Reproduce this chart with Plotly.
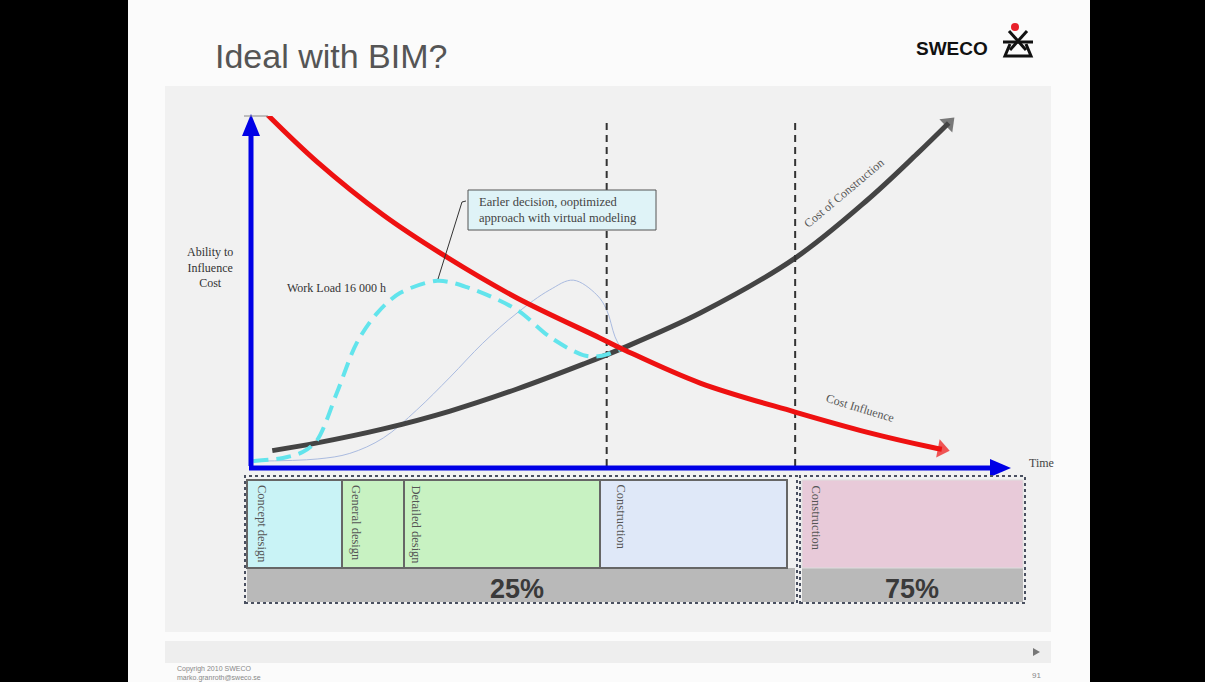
import plotly.graph_objects as go

W, H = 1205, 682

# ---- chart data: time on x (0-100), relative level on y (0-100) ----
influence_x = [2.2, 8.7, 17.4, 25.3, 35.0, 45.9, 49.2, 59.1, 71.6, 81.0, 89.7, 90.9]
influence_y = [100.3, 86.9, 71.7, 60.3, 48.0, 36.6, 33.1, 23.7, 15.4, 9.7, 5.3, 4.8]

construction_x = [2.8, 8.7, 17.4, 26.2, 35.0, 43.7, 48.6, 59.1, 71.6, 81.1, 87.6, 91.8]
construction_y = [4.4, 6.6, 10.6, 15.7, 22.0, 29.1, 33.4, 43.7, 59.4, 76.0, 89.1, 98.0]

bim_load_x = [0.3, 4.2, 6.8, 8.7, 11.3, 13.9, 16.6, 19.6, 24.5, 28.4, 35.0, 39.3, 43.7, 45.9, 49.0]
bim_load_y = [1.4, 2.3, 4.0, 7.4, 20.9, 35.1, 43.7, 49.4, 52.9, 51.1, 44.6, 36.9, 31.7, 31.4, 33.7]

trad_load_x = [0.3, 8.7, 13.0, 17.4, 21.8, 26.2, 30.5, 35.0, 39.3, 42.4, 45.5, 46.8, 47.9, 48.8]
trad_load_y = [1.4, 2.0, 3.6, 8.0, 16.0, 25.4, 35.1, 43.7, 50.3, 53.1, 48.9, 44.6, 36.9, 33.1]

milestones = [46.8, 71.6]

phase_names = ["Concept design", "General design", "Detailed design", "Construction", "Construction"]
shares = [25, 75]

# ---- layout helpers (pixel -> paper) ----
def px(x):
    return x / W


def py(y):
    return 1 - y / H


shapes = []
annotations = []


def rect(x0, y0, x1, y1, fill, line=None, lw=0, dash=None, layer="below"):
    shapes.append(dict(type="rect", xref="paper", yref="paper",
                       x0=px(x0), x1=px(x1), y0=py(y1), y1=py(y0),
                       fillcolor=fill, layer=layer,
                       line=dict(color=line or fill, width=lw, dash=dash)))


def seg(x0, y0, x1, y1, color, w, layer="above"):
    shapes.append(dict(type="line", xref="paper", yref="paper",
                       x0=px(x0), x1=px(x1), y0=py(y0), y1=py(y1), layer=layer,
                       line=dict(color=color, width=w)))


def path(pts, fill, line=None, lw=0, layer="above", close=True):
    d = "M " + " L ".join(f"{px(a):.5f},{py(b):.5f}" for a, b in pts) + (" Z" if close else "")
    shapes.append(dict(type="path", xref="paper", yref="paper", path=d, layer=layer,
                       fillcolor=fill, line=dict(color=line or fill, width=lw)))


def text(x, y, s, size, color="#333", family="Liberation Serif", xa="center", ya="middle",
         angle=0, bold=False, align="center"):
    annotations.append(dict(xref="paper", yref="paper", x=px(x), y=py(y), text=s,
                            showarrow=False, xanchor=xa, yanchor=ya, textangle=angle,
                            align=align,
                            font=dict(family=family, size=size, color=color,
                                      weight="bold" if bold else "normal")))


# slide + panel backgrounds
rect(128, 0, 1090, H, "#fbfbfb")
rect(165, 86, 1051, 632, "#f1f1f1")
rect(165, 641, 1051, 663, "#eeeeee")

# title and logo
text(213, 56, "Ideal with BIM?", 34, "#555", "Liberation Sans", xa="left")
text(952, 48, "SWECO", 19, "#111", "Liberation Sans", bold=True)
seg(1009, 31, 1026, 50, "#111", 3)
seg(1027, 31, 1010, 50, "#111", 3)
seg(1003, 42, 1033, 42, "#111", 3)
path([(1010, 44), (1005, 56), (1031, 56), (1026, 44)], "rgba(0,0,0,0)", "#111", 3, close=False)
shapes.append(dict(type="circle", xref="paper", yref="paper", x0=px(1011), x1=px(1019),
                   y0=py(31), y1=py(23), fillcolor="#e8202a", line=dict(width=0)))

# footer
text(175, 669, "Copyrigh 2010 SWECO", 7, "#888", "Liberation Sans", xa="left")
text(175, 678, "marko.granroth@sweco.se", 7, "#888", "Liberation Sans", xa="left")
text(1036, 675, "91", 8, "#888", "Liberation Sans")
path([(1033, 648), (1033, 656), (1040, 652)], "#777")

# blue axes with arrow heads
seg(251, 466, 251, 134, "#0000e6", 5)
path([(242, 136), (251, 114), (260, 136)], "#0000e6")
seg(244, 116, 268, 116, "#888", 1)
seg(249, 468, 992, 468, "#0000e6", 5)
path([(990, 459), (1011, 468), (990, 477)], "#0000e6")
text(1027, 463, "Time", 12, "#444", xa="left")

# axis labels and curve captions
text(210, 267, "Ability to<br>Influence<br>Cost", 12, "#333")
text(285, 288, "Work Load 16 000 h", 12, "#333", xa="left")
text(844, 193, "Cost of Construction", 12, "#555", angle=-40)
text(860, 408, "Cost Influence", 12, "#555", angle=17)

# call-out box
rect(468, 190, 656, 230, "#dff3f7", "#555", 1, layer="above")
text(477, 210, "Earler decision, ooptimized<br>approach with virtual modeling", 12.5, "#444",
     xa="left", align="left")
path([(438, 279), (462, 202), (466, 201)], "rgba(0,0,0,0)", "#333", 1, close=False)

# phase boxes beneath the time axis
phase_edges = [247, 342, 404, 600, 787]
phase_fills = ["#c9f3f6", "#c8f2c2", "#c8f2c2", "#dfe8f8"]
rect(247, 568, 795, 602, "#b9b9b9")
rect(802, 568, 1023, 602, "#b9b9b9")
for i in range(4):
    rect(phase_edges[i], 480, phase_edges[i + 1], 568, phase_fills[i], "#666", 2)
rect(802, 480, 1023, 568, "#e8cad9", "#ddd", 1)
rect(245, 476, 797, 603, "rgba(0,0,0,0)", "#4a5060", 2, "dot", layer="above")
rect(800, 476, 1025, 603, "rgba(0,0,0,0)", "#4a5060", 2, "dot", layer="above")

label_x = [262, 356, 416, 621, 816]
for name, lx in zip(phase_names, label_x):
    text(lx, 483, name, 12.5, "#555", angle=90, ya="top")
for share, cx in zip(shares, [517, 912]):
    text(cx, 589, f"{share}%", 27, "#3a3a3a", "Liberation Sans", bold=True)

# ---- traces ----
fig = go.Figure()


def head_sizes(n, s):
    return [0] * (n - 1) + [s]


fig.add_trace(go.Scatter(x=trad_load_x, y=trad_load_y, mode="lines",
                         line=dict(color="#aabbe0", width=1, shape="spline", smoothing=1.0)))
fig.add_trace(go.Scatter(x=construction_x, y=construction_y, mode="lines+markers",
                         line=dict(color="#444444", width=5, shape="spline", smoothing=1.0),
                         marker=dict(symbol="triangle-up", angleref="previous", color="#444444",
                                     line=dict(width=0),
                                     size=head_sizes(len(construction_x), 16))))
for m in milestones:
    fig.add_trace(go.Scatter(x=[m, m], y=[0, 99.4], mode="lines",
                             line=dict(color="#333", width=2, dash="7px,5px")))
fig.add_trace(go.Scatter(x=bim_load_x, y=bim_load_y, mode="lines",
                         line=dict(color="#62e4ec", width=4, dash="15px,8px",
                                   shape="spline", smoothing=0.9)))
fig.add_trace(go.Scatter(x=influence_x, y=influence_y, mode="lines+markers",
                         line=dict(color="#ee1111", width=5, shape="spline", smoothing=1.0),
                         marker=dict(symbol="triangle-up", angleref="previous", color="#ee1111",
                                     line=dict(width=0),
                                     size=head_sizes(len(influence_x), 16))))

fig.update_layout(
    width=W, height=H, margin=dict(l=0, r=0, t=0, b=0),
    paper_bgcolor="#000000", plot_bgcolor="rgba(0,0,0,0)",
    showlegend=False, shapes=shapes, annotations=annotations,
    xaxis=dict(domain=[px(251), px(1011)], range=[0, 100], visible=False, fixedrange=True),
    yaxis=dict(domain=[py(466), py(116)], range=[0, 100], visible=False, fixedrange=True),
)

fig.write_html("out.html")
